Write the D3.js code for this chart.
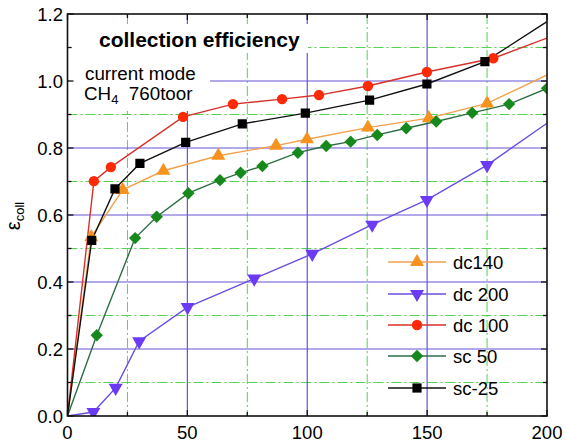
<!DOCTYPE html>
<html>
<head>
<meta charset="utf-8">
<script src="https://cdn.jsdelivr.net/npm/d3@7"></script>
<style>
  html, body { margin: 0; padding: 0; background: #fff; }
  svg { display: block; font-family: "Liberation Sans", Arial, sans-serif; }
</style>
</head>
<body>
<svg id="chart" width="566" height="444"></svg>
<script>
// Collection efficiency vs. voltage, CH4 at 760 torr, current mode

// marker positions (x, efficiency)
const dc140X = [0, 9.9, 23.0, 40.0, 62.9, 87.0, 99.9, 125.3, 150.7, 175.0];
const dc140Y = [0, 0.534, 0.675, 0.732, 0.777, 0.807, 0.826, 0.861, 0.889, 0.933];
const dc200X = [0, 10.8, 20.1, 29.9, 50.1, 77.9, 102.1, 127.1, 149.9, 175.0];
const dc200Y = [0, 0.012, 0.084, 0.223, 0.325, 0.410, 0.484, 0.571, 0.645, 0.749];
const dc100X = [0, 11.0, 18.1, 48.2, 69.0, 89.5, 104.9, 125.3, 149.9, 177.6];
const dc100Y = [0, 0.701, 0.743, 0.893, 0.931, 0.946, 0.958, 0.985, 1.027, 1.068];
const sc50X = [0, 12.2, 28.2, 37.2, 50.4, 63.6, 72.2, 81.3, 96.1, 107.9, 118.1, 129.2, 141.3, 153.8, 168.8, 184.2, 200];
const sc50Y = [0, 0.241, 0.531, 0.595, 0.665, 0.704, 0.726, 0.746, 0.786, 0.806, 0.819, 0.839, 0.859, 0.879, 0.905, 0.931, 0.978];
const sc25X = [0, 10.1, 19.8, 30.2, 49.3, 72.9, 99.2, 126.0, 149.9, 174.1];
const sc25Y = [0, 0.524, 0.678, 0.754, 0.817, 0.872, 0.904, 0.943, 0.991, 1.058];

// value where each curve leaves the right edge of the frame (x = 200), no marker there
const edgeX = 200;
const dc140Edge = 1.018;
const dc200Edge = 0.874;
const dc100Edge = 1.128;
const sc25Edge = 1.177;

const seriesNames = ["dc140", "dc 200", "dc 100", "sc 50", "sc-25"];
const xTicks = [0, 50, 100, 150, 200];
const yTicks = [0.0, 0.2, 0.4, 0.6, 0.8, 1.0, 1.2];
const xMinor = [25, 75, 125, 175];
const yMinor = [0.1, 0.3, 0.5, 0.7, 0.9, 1.1];

const series = [
  { name: seriesNames[0], xs: dc140X, ys: dc140Y, edge: dc140Edge, line: "#f0a24e", fill: "#f7921e", shape: "triUp" },
  { name: seriesNames[1], xs: dc200X, ys: dc200Y, edge: dc200Edge, line: "#6a4fe0", fill: "#6a3af5", shape: "triDown" },
  { name: seriesNames[2], xs: dc100X, ys: dc100Y, edge: dc100Edge, line: "#d8302a", fill: "#ff2a05", shape: "circle" },
  { name: seriesNames[3], xs: sc50X, ys: sc50Y, edge: null, line: "#2e6e44", fill: "#17891c", shape: "diamond" },
  { name: seriesNames[4], xs: sc25X, ys: sc25Y, edge: sc25Edge, line: "#111111", fill: "#000000", shape: "square" }
];

const svg = d3.select("#chart");
const L = 67.5, R = 547, T = 14, B = 416;
const x = d3.scaleLinear().domain([0, 200]).range([L, R]);
const y = d3.scaleLinear().domain([0, 1.2]).range([B, T]);

svg.append("defs").append("clipPath").attr("id", "plotClip")
  .append("rect").attr("x", L).attr("y", T).attr("width", R - L).attr("height", B - T);

// grid: dash-dot green at minor steps, solid purple at major steps
const grid = svg.append("g");
const minorColor = "#52d452", majorColor = "#6555d8";
grid.selectAll(".gxm").data(xMinor).join("line")
  .attr("x1", d => x(d)).attr("x2", d => x(d)).attr("y1", T).attr("y2", B)
  .attr("stroke", minorColor).attr("stroke-width", 1).attr("stroke-dasharray", "10,3,2,3");
grid.selectAll(".gym").data(yMinor).join("line")
  .attr("y1", d => y(d)).attr("y2", d => y(d)).attr("x1", L).attr("x2", R)
  .attr("stroke", minorColor).attr("stroke-width", 1).attr("stroke-dasharray", "10,3,2,3");
grid.selectAll(".gxM").data(xTicks.filter(d => d > 0 && d < 200)).join("line")
  .attr("x1", d => x(d)).attr("x2", d => x(d)).attr("y1", T).attr("y2", B)
  .attr("stroke", majorColor).attr("stroke-width", 1.2);
grid.selectAll(".gyM").data(yTicks.filter(d => d > 0 && d < 1.2)).join("line")
  .attr("y1", d => y(d)).attr("y2", d => y(d)).attr("x1", L).attr("x2", R)
  .attr("stroke", majorColor).attr("stroke-width", 1.2);

// white backing behind the annotation text
svg.append("rect").attr("x", 72).attr("y", 24).attr("width", 236).attr("height", 29).attr("fill", "#fff");
svg.append("rect").attr("x", 69).attr("y", 53).attr("width", 141).attr("height", 58).attr("fill", "#fff");

svg.append("text").attr("x", 99).attr("y", 47)
  .attr("font-size", 21).attr("font-weight", "bold").attr("fill", "#000")
  .text("collection efficiency");
svg.append("text").attr("x", 85).attr("y", 80)
  .attr("font-size", 18.8).attr("fill", "#000").text("current mode");
const ch4 = svg.append("text").attr("x", 84).attr("y", 100).attr("font-size", 18.8).attr("fill", "#000");
ch4.append("tspan").text("CH");
ch4.append("tspan").attr("font-size", 13).attr("dy", 4).text("4");
ch4.append("tspan").attr("dy", -4).text("\u00a0\u00a0760toor");

// curves and markers
const plot = svg.append("g").attr("clip-path", "url(#plotClip)");
const lineGen = d3.line().x(d => x(d[0])).y(d => y(d[1]));

function markerPath(shape) {
  switch (shape) {
    case "triUp": return d3.symbol(d3.symbolTriangle, 85)();
    case "triDown": return d3.symbol(d3.symbolTriangle, 85)();
    case "circle": return d3.symbol(d3.symbolCircle, 85)();
    case "diamond": return "M0,-6.2L6.2,0L0,6.2L-6.2,0Z";
    case "square": return "M-4.6,-4.6H4.6V4.6H-4.6Z";
  }
}
function markerTransform(shape, px, py) {
  return shape === "triDown" ? `translate(${px},${py}) rotate(180)` : `translate(${px},${py})`;
}

series.forEach(s => {
  const pts = s.xs.map((v, i) => [v, s.ys[i]]);
  if (s.edge !== null) pts.push([edgeX, s.edge]);
  plot.append("path").attr("d", lineGen(pts))
    .attr("fill", "none").attr("stroke", s.line).attr("stroke-width", 1.4);
});
series.forEach(s => {
  plot.selectAll(null).data(s.xs.map((v, i) => [v, s.ys[i]]).filter(d => d[0] > 0)).join("path")
    .attr("d", markerPath(s.shape))
    .attr("transform", d => markerTransform(s.shape, x(d[0]), y(d[1])))
    .attr("fill", s.fill);
});

// frame with inward ticks
svg.append("rect").attr("x", L).attr("y", T).attr("width", R - L).attr("height", B - T)
  .attr("fill", "none").attr("stroke", "#111").attr("stroke-width", 1.6);
const tk = svg.append("g").attr("stroke", "#111").attr("stroke-width", 1.3);
xTicks.concat(xMinor).forEach(v => {
  const len = xTicks.includes(v) ? 6 : 4;
  tk.append("line").attr("x1", x(v)).attr("x2", x(v)).attr("y1", B).attr("y2", B - len);
  tk.append("line").attr("x1", x(v)).attr("x2", x(v)).attr("y1", T).attr("y2", T + len);
});
yTicks.concat(yMinor).forEach(v => {
  const len = yTicks.includes(v) ? 6 : 4;
  tk.append("line").attr("y1", y(v)).attr("y2", y(v)).attr("x1", L).attr("x2", L + len);
  tk.append("line").attr("y1", y(v)).attr("y2", y(v)).attr("x1", R).attr("x2", R - len);
});

// tick labels
svg.append("g").selectAll("text").data(yTicks).join("text")
  .attr("x", 63).attr("y", d => y(d)).attr("dy", "0.36em")
  .attr("text-anchor", "end").attr("font-size", 18.5).attr("fill", "#000")
  .text(d => d3.format(".1f")(d));
svg.append("g").selectAll("text").data(xTicks).join("text")
  .attr("x", d => x(d)).attr("y", 439)
  .attr("text-anchor", "middle").attr("font-size", 18.5).attr("fill", "#000")
  .text(d => d);

// y-axis title
const yt = svg.append("text").attr("transform", "translate(20,216) rotate(-90)")
  .attr("text-anchor", "middle").attr("fill", "#000");
yt.append("tspan").attr("font-size", 20).text("\u03b5");
yt.append("tspan").attr("font-size", 13).attr("dy", 4).text("coll");

// legend
const legY = [262, 294, 325, 356, 388];
const lg = svg.append("g");
series.forEach((s, i) => {
  lg.append("line").attr("x1", 388).attr("x2", 446).attr("y1", legY[i]).attr("y2", legY[i])
    .attr("stroke", s.line).attr("stroke-width", 1.4);
  lg.append("path").attr("d", markerPath(s.shape))
    .attr("transform", markerTransform(s.shape, 417, legY[i])).attr("fill", s.fill);
  lg.append("text").attr("x", 453).attr("y", legY[i]).attr("dy", "0.36em")
    .attr("font-size", 18.5).attr("fill", "#000").text(s.name);
});
</script>
</body>
</html>
